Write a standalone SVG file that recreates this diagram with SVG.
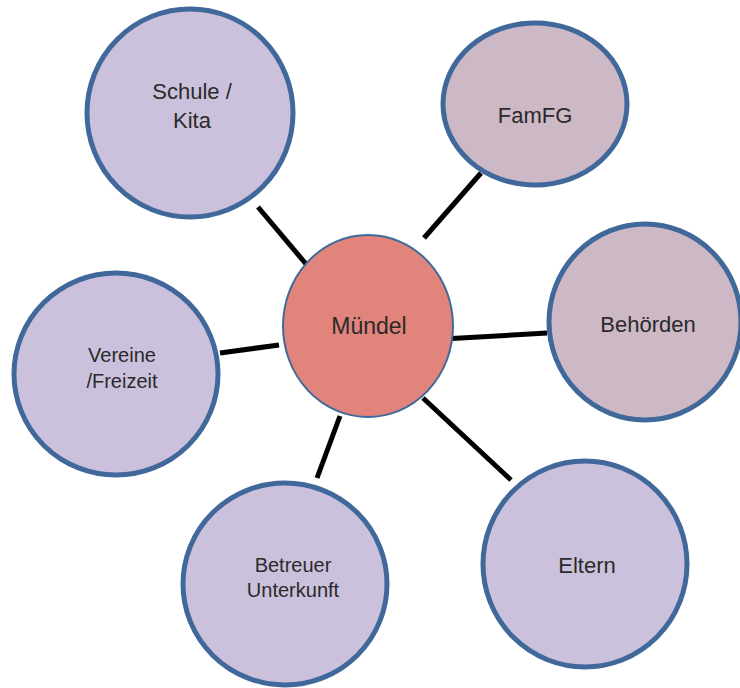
<svg xmlns="http://www.w3.org/2000/svg" width="740" height="688" viewBox="0 0 740 688">
<style>
.node{stroke:#41689a;stroke-width:5}
.lav{fill:#cbc1dc}
.mauve{fill:#cdb8c6}
.center{fill:#e0847c;stroke:#3d6a9a;stroke-width:2}
.lbl{font-family:"Liberation Sans",Arial,sans-serif;font-size:22px;fill:#2a2a2a;text-anchor:middle}
.sm{font-size:20px}
.conn line{stroke:#000;stroke-width:5;stroke-linecap:butt}
</style>
<rect width="740" height="688" fill="#ffffff"/>
<g id="connectors" class="conn">
<line x1="258" y1="207" x2="306" y2="264"/>
<line x1="481" y1="173" x2="424" y2="238"/>
<line x1="443" y1="339" x2="547" y2="333"/>
<line x1="220" y1="353" x2="279" y2="345"/>
<line x1="340" y1="416" x2="317" y2="478"/>
<line x1="423" y1="398" x2="511" y2="480"/>
</g>
<g id="schule">
<ellipse class="node lav" cx="190" cy="113" rx="103" ry="104"/>
<text class="lbl" x="192" y="99">Schule /</text>
<text class="lbl" x="192" y="128">Kita</text>
</g>
<g id="famfg">
<ellipse class="node mauve" cx="535" cy="104" rx="92" ry="81"/>
<text class="lbl" x="535" y="123">FamFG</text>
</g>
<g id="muendel">
<ellipse class="center" cx="368" cy="326" rx="85" ry="91"/>
<text class="lbl" x="369" y="334" style="font-size:23px">Mündel</text>
</g>
<g id="behoerden">
<ellipse class="node mauve" cx="645" cy="322" rx="96" ry="98"/>
<text class="lbl" x="648" y="332">Behörden</text>
</g>
<g id="vereine">
<ellipse class="node lav" cx="116" cy="374" rx="102" ry="101"/>
<text class="lbl sm" x="122" y="362">Vereine</text>
<text class="lbl sm" x="122" y="388">/Freizeit</text>
</g>
<g id="betreuer">
<ellipse class="node lav" cx="285" cy="584" rx="102" ry="101"/>
<text class="lbl sm" x="293" y="572">Betreuer</text>
<text class="lbl sm" x="293" y="597">Unterkunft</text>
</g>
<g id="eltern">
<ellipse class="node lav" cx="585" cy="564" rx="102" ry="103"/>
<text class="lbl" x="587" y="573">Eltern</text>
</g>
</svg>
